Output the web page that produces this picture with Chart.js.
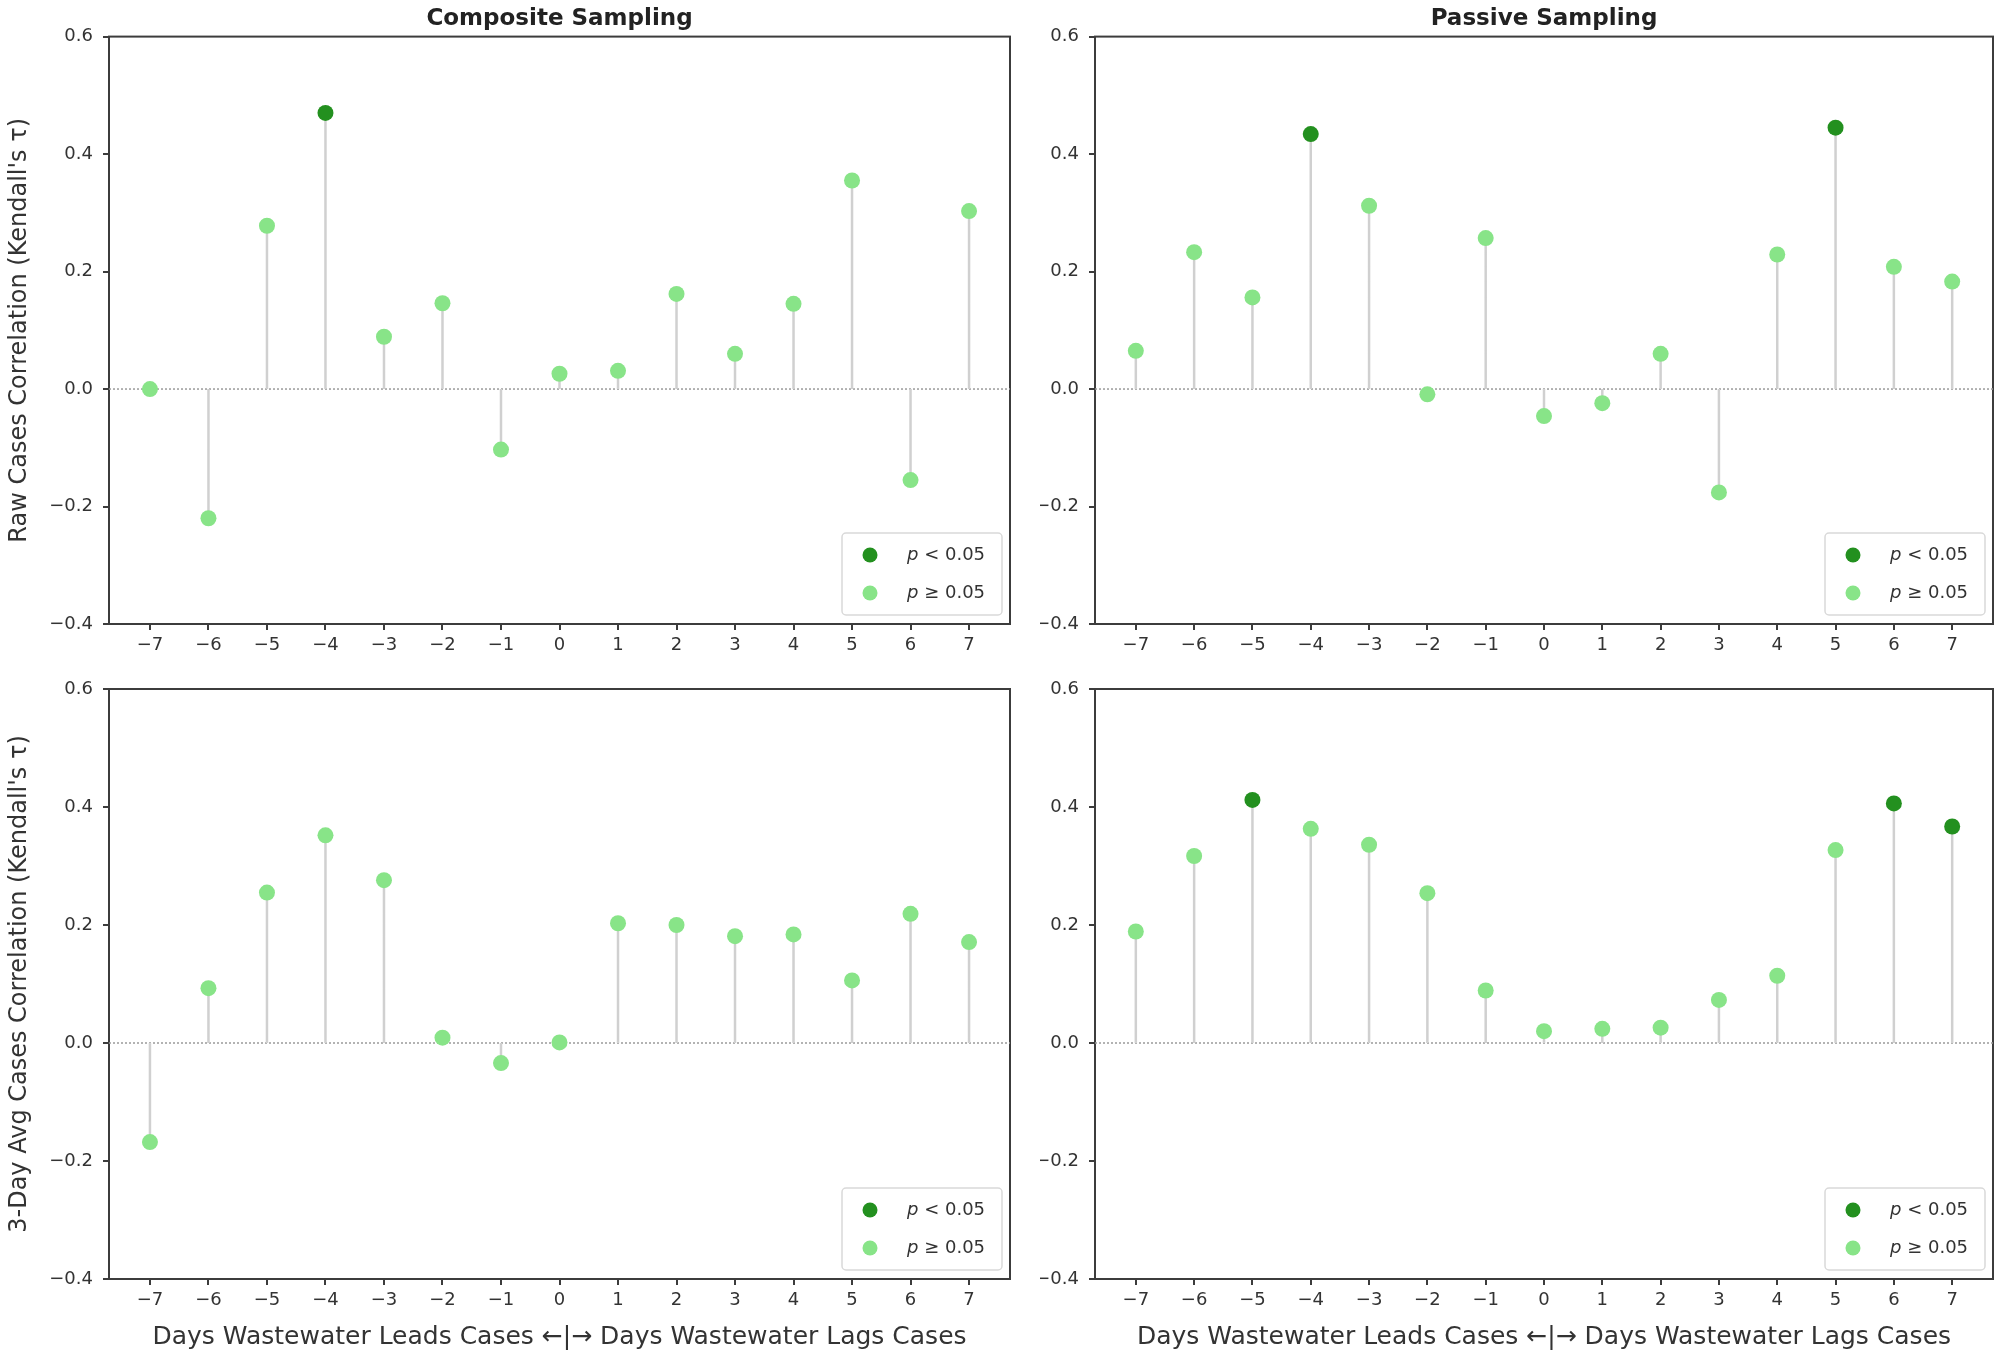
<!DOCTYPE html>
<html><head><meta charset="utf-8">
<script src="https://cdn.jsdelivr.net/npm/chart.js@4.4.0/dist/chart.umd.min.js"></script>
<style>
html,body{margin:0;padding:0;background:#fff;}
#wrap{position:relative;width:2001px;height:1357px;overflow:hidden;background:#fff;}
canvas{position:absolute;}
</style></head><body>
<div id="wrap">
<canvas id="c0" width="1040" height="660" style="left:0;top:0"></canvas>
<canvas id="c1" width="961" height="660" style="left:1040px;top:0"></canvas>
<canvas id="c2" width="1040" height="697" style="left:0;top:660px"></canvas>
<canvas id="c3" width="961" height="697" style="left:1040px;top:660px"></canvas>
</div>
<script>
// ---- data ----
const lags = [-7,-6,-5,-4,-3,-2,-1,0,1,2,3,4,5,6,7];
const compositeRaw    = [0.000,-0.220,0.278,0.470,0.089,0.146,-0.103,0.026,0.031,0.162,0.060,0.145,0.355,-0.155,0.303];
const compositeRawSig = [0,0,0,1,0,0,0,0,0,0,0,0,0,0,0];
const passiveRaw      = [0.065,0.233,0.156,0.434,0.312,-0.009,0.257,-0.046,-0.024,0.060,-0.176,0.229,0.445,0.208,0.183];
const passiveRawSig   = [0,0,0,1,0,0,0,0,0,0,0,0,1,0,0];
const composite3d     = [-0.168,0.093,0.255,0.352,0.276,0.009,-0.034,0.001,0.203,0.200,0.181,0.184,0.106,0.219,0.171];
const composite3dSig  = [0,0,0,0,0,0,0,0,0,0,0,0,0,0,0];
const passive3d       = [0.189,0.317,0.412,0.363,0.336,0.254,0.089,0.020,0.024,0.026,0.073,0.114,0.327,0.406,0.367];
const passive3dSig    = [0,0,1,0,0,0,0,0,0,0,0,0,0,1,1];
const xTicks = lags;
const yTicks = [-0.4,-0.2,0.0,0.2,0.4,0.6];
const legendLabels = ['p < 0.05','p \u2265 0.05'];
const columnTitles = ['Composite Sampling','Passive Sampling'];
const rowLabels = ["Raw Cases Correlation (Kendall's \u03c4)","3-Day Avg Cases Correlation (Kendall's \u03c4)"];
const xLabel = 'Days Wastewater Leads Cases \u2190|\u2192 Days Wastewater Lags Cases';

// ---- style ----
const FONT = 'DejaVu Sans';
const TXT = '#333333';
const FRAME = '#3c3c3c';
const DARK = '#23901f';
const LIGHT = '#88e488';
const STEM = '#d0d0d0';
const XMIN = -7.7, XMAX = 7.7;

const fmtX = v => String(Math.round(v)).replace('-', '\u2212');
const fmtY = v => v.toFixed(1).replace('-', '\u2212');

const framePlugin = {
  id: 'frame',
  beforeDatasetsDraw(chart) {
    const {ctx, chartArea: a} = chart;
    ctx.save();
    ctx.strokeStyle = FRAME; ctx.lineWidth = 2;
    ctx.strokeRect(a.left, a.top, a.right - a.left, a.bottom - a.top);
    ctx.restore();
  }
};

const legendPlugin = {
  id: 'innerLegend',
  afterDatasetsDraw(chart) {
    const {ctx, chartArea: a} = chart;
    const w = 160, h = 82;
    const x0 = a.right - 8 - w, y0 = a.bottom - 9 - h;
    ctx.save();
    ctx.beginPath();
    const r = 4;
    ctx.moveTo(x0 + r, y0);
    ctx.arcTo(x0 + w, y0, x0 + w, y0 + h, r);
    ctx.arcTo(x0 + w, y0 + h, x0, y0 + h, r);
    ctx.arcTo(x0, y0 + h, x0, y0, r);
    ctx.arcTo(x0, y0, x0 + w, y0, r);
    ctx.closePath();
    ctx.fillStyle = 'rgba(255,255,255,0.85)';
    ctx.fill();
    ctx.strokeStyle = '#d9d9d9'; ctx.lineWidth = 1.5;
    ctx.stroke();
    const items = chart.data.datasets.filter(d => d.legendItem);
    items.forEach((d, i) => {
      const cy = y0 + 22 + i * 38;
      ctx.beginPath();
      ctx.arc(x0 + 28, cy, 7.5, 0, Math.PI * 2);
      ctx.fillStyle = d.backgroundColor; ctx.fill();
      ctx.fillStyle = TXT;
      ctx.textBaseline = 'middle'; ctx.textAlign = 'left';
      ctx.font = 'italic 18px "' + FONT + '"';
      const first = d.label.charAt(0);
      ctx.fillText(first, x0 + 65, cy);
      const fw = ctx.measureText(first).width;
      ctx.font = '18px "' + FONT + '"';
      ctx.fillText(d.label.slice(1), x0 + 65 + fw, cy);
    });
    ctx.restore();
  }
};

function makePanel(id, values, sig, opt) {
  const stems = [];
  lags.forEach((x, i) => { stems.push({x, y: 0}, {x, y: values[i]}, {x, y: null}); });
  const sigPts = [], nsPts = [];
  lags.forEach((x, i) => { (sig[i] ? sigPts : nsPts).push({x, y: values[i]}); });
  const datasets = [
    {type: 'line', data: [{x: XMIN, y: 0}, {x: XMAX, y: 0}], borderColor: '#9a9a9a', borderWidth: 1.5,
     borderDash: [2, 2], pointRadius: 0, order: 3},
    {type: 'line', data: stems, borderColor: STEM, borderWidth: 2.5, pointRadius: 0, spanGaps: false, order: 2},
    {type: 'scatter', label: legendLabels[0], legendItem: true, data: sigPts, backgroundColor: DARK,
     borderWidth: 0, pointRadius: 8, order: 0},
    {type: 'scatter', label: legendLabels[1], legendItem: true, data: nsPts, backgroundColor: LIGHT,
     borderWidth: 0, pointRadius: 8, order: 1}
  ];
  const tickFont = {family: FONT, size: 18};
  const gridOpt = {display: true, drawOnChartArea: false, drawTicks: true, tickLength: 6, color: FRAME, lineWidth: 2};
  new Chart(document.getElementById(id), {
    type: 'scatter',
    data: {datasets},
    plugins: [framePlugin, legendPlugin],
    options: {
      responsive: false, animation: false, devicePixelRatio: 1,
      layout: {padding: {top: opt.topPad, right: opt.rightPad, left: 0, bottom: 0}},
      plugins: {
        legend: {display: false}, tooltip: {enabled: false},
        title: {display: !!opt.title, text: opt.title || '', fullSize: false, color: '#222',
                font: {family: FONT, size: 23, weight: 'bold', lineHeight: 1.2}, padding: {top: 5, bottom: 4}}
      },
      scales: {
        x: {
          type: 'linear', min: XMIN, max: XMAX,
          afterBuildTicks: s => { s.ticks = xTicks.map(v => ({value: v})); },
          afterFit: s => { s.height = opt.xH; },
          ticks: {callback: v => fmtX(v), font: tickFont, color: TXT, padding: 5, maxRotation: 0, autoSkip: false},
          grid: gridOpt, border: {display: false},
          title: {display: !!opt.xTitle, text: opt.xTitle || '', color: TXT,
                  font: {family: FONT, size: 25, lineHeight: 1.2}, padding: {top: 4, bottom: 5}}
        },
        y: {
          type: 'linear', min: -0.4, max: 0.6,
          afterBuildTicks: s => { s.ticks = yTicks.map(v => ({value: v})); },
          afterFit: s => { s.width = opt.yW; },
          ticks: {callback: v => fmtY(v), font: tickFont, color: TXT, padding: 10},
          grid: gridOpt, border: {display: false},
          title: {display: !!opt.yTitle, text: opt.yTitle || '', color: TXT,
                  font: {family: FONT, size: 24, lineHeight: 1.2}, padding: {top: 5, bottom: 0}}
        }
      }
    }
  });
}

makePanel('c0', compositeRaw, compositeRawSig, {title: columnTitles[0], yTitle: rowLabels[0], topPad: 0, rightPad: 30, yW: 109, xH: 36});
makePanel('c1', passiveRaw, passiveRawSig, {title: columnTitles[1], topPad: 0, rightPad: 4, yW: 55, xH: 36});
makePanel('c2', composite3d, composite3dSig, {yTitle: rowLabels[1], xTitle: xLabel, topPad: 29, rightPad: 30, yW: 109, xH: 78});
makePanel('c3', passive3d, passive3dSig, {xTitle: xLabel, topPad: 29, rightPad: 4, yW: 55, xH: 78});
</script>
</body></html>
